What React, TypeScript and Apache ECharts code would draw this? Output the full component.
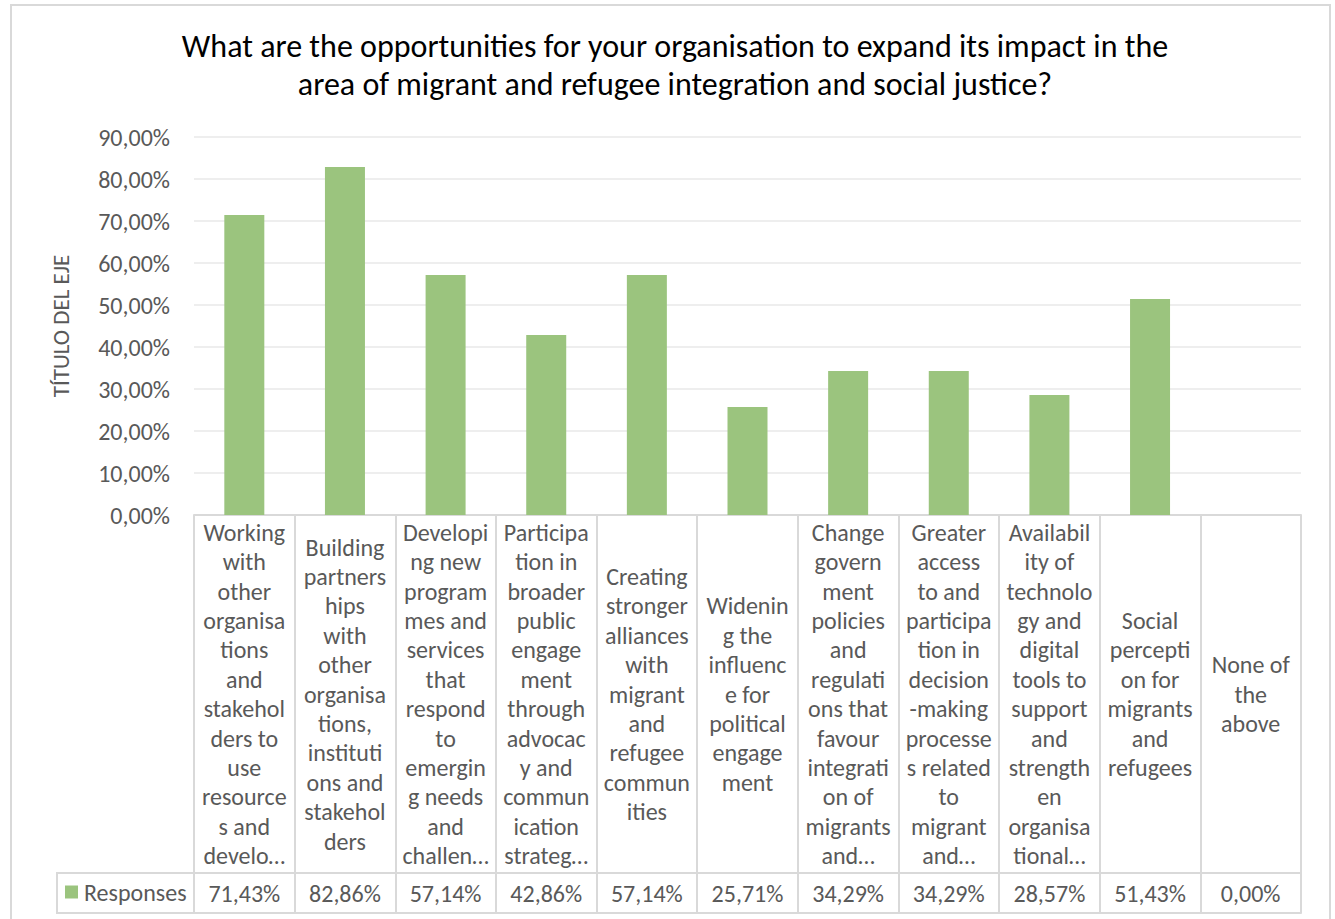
import React, { useEffect, useRef } from "react";
import * as echarts from "echarts";

const titleLines = [
  "What are the opportunities for your organisation to expand its impact in the",
  "area of migrant and refugee integration and social justice?",
];

const categories = [
  "Working\nwith\nother\norganisa\ntions\nand\nstakehol\nders to\nuse\nresource\ns and\ndevelo…",
  "Building\npartners\nhips\nwith\nother\norganisa\ntions,\ninstituti\nons and\nstakehol\nders",
  "Developi\nng new\nprogram\nmes and\nservices\nthat\nrespond\nto\nemergin\ng needs\nand\nchallen…",
  "Participa\ntion in\nbroader\npublic\nengage\nment\nthrough\nadvocac\ny and\ncommun\nication\nstrateg…",
  "Creating\nstronger\nalliances\nwith\nmigrant\nand\nrefugee\ncommun\nities",
  "Widenin\ng the\ninfluenc\ne for\npolitical\nengage\nment",
  "Change\ngovern\nment\npolicies\nand\nregulati\nons that\nfavour\nintegrati\non of\nmigrants\nand…",
  "Greater\naccess\nto and\nparticipa\ntion in\ndecision\n-making\nprocesse\ns related\nto\nmigrant\nand…",
  "Availabil\nity of\ntechnolo\ngy and\ndigital\ntools to\nsupport\nand\nstrength\nen\norganisa\ntional…",
  "Social\npercepti\non for\nmigrants\nand\nrefugees",
  "None of\nthe\nabove",
];

const seriesName = "Responses";
const values = [71.43, 82.86, 57.14, 42.86, 57.14, 25.71, 34.29, 34.29, 28.57, 51.43, 0.0];

const yAxisName = "TÍTULO DEL EJE";

const fmt = (v: number) => v.toFixed(2).replace(".", ",") + "%";

const FONT = "Carlito, Lato, 'Open Sans', sans-serif";
const TXT = "#595959";
const LINE = "#d9d9d9";

export default function App() {
  const ref = useRef<HTMLDivElement>(null);
  useEffect(() => {
    if (!ref.current) return;
    const chart = echarts.init(ref.current, null, { renderer: "svg" });
    chart.setOption({
      animation: false,
      backgroundColor: "#ffffff",
      textStyle: { fontFamily: FONT },
      title: {
        text: titleLines.join("\n"),
        left: 670,
        textAlign: "center",
        top: 22,
        textStyle: {
          fontFamily: FONT,
          fontSize: 32,
          fontWeight: "normal",
          color: "#000000",
          lineHeight: 38,
        },
      },
      legend: {
        left: 60,
        top: 875,
        icon: "rect",
        itemWidth: 13,
        itemHeight: 13,
        itemGap: 5,
        textStyle: { fontFamily: FONT, fontSize: 24, color: TXT, padding: [0, 0, 0, 1] },
        data: [seriesName],
      },
      grid: { left: 194, right: 34, top: 137, bottom: 404, containLabel: false },
      xAxis: [
        {
          type: "category",
          position: "bottom",
          data: categories,
          axisLine: { show: true, lineStyle: { color: LINE, width: 2 } },
          axisTick: { show: true, length: 398, interval: 0, lineStyle: { color: LINE, width: 2 } },
          axisLabel: {
            interval: 0,
            margin: 179,
            verticalAlign: "middle",
            align: "center",
            fontFamily: FONT,
            fontSize: 24,
            lineHeight: 29.4,
            color: TXT,
          },
        },
        {
          type: "category",
          position: "bottom",
          offset: 358,
          data: values.map(fmt),
          axisLine: { show: true, lineStyle: { color: LINE, width: 2 } },
          axisTick: { show: false },
          axisLabel: {
            interval: 0,
            margin: 20,
            verticalAlign: "middle",
            fontFamily: FONT,
            fontSize: 24,
            color: TXT,
          },
        },
        {
          type: "category",
          position: "bottom",
          offset: 398,
          data: categories.map(() => ""),
          axisLine: { show: true, lineStyle: { color: LINE, width: 2 } },
          axisTick: { show: false },
          axisLabel: { show: false },
        },
      ],
      yAxis: {
        type: "value",
        min: 0,
        max: 90,
        interval: 10,
        name: yAxisName,
        nameLocation: "middle",
        nameGap: 122,
        nameTextStyle: { fontFamily: FONT, fontSize: 23, color: TXT },
        axisLine: { show: false },
        axisTick: { show: false },
        splitLine: { lineStyle: { color: "#e8e8e8", width: 1.5 } },
        axisLabel: {
          margin: 24,
          fontFamily: FONT,
          fontSize: 24,
          color: TXT,
          formatter: (v: number) => fmt(v),
        },
      },
      graphic: [
        {
          type: "rect",
          shape: { x: 11, y: 5, width: 1319, height: 930 },
          style: { fill: "none", stroke: LINE, lineWidth: 2 },
          silent: true,
        },
        {
          type: "rect",
          shape: { x: 57, y: 873, width: 137, height: 40 },
          style: { fill: "none", stroke: LINE, lineWidth: 2 },
          silent: true,
        },
      ],
      series: [
        {
          name: seriesName,
          type: "bar",
          xAxisIndex: 0,
          data: values,
          barWidth: 40,
          itemStyle: { color: "#9bc47e" },
        },
      ],
    });
    return () => chart.dispose();
  }, []);
  return (
    <div
      ref={ref}
      style={{ position: "fixed", left: 0, top: 0, width: 1335, height: 919 }}
    />
  );
}
